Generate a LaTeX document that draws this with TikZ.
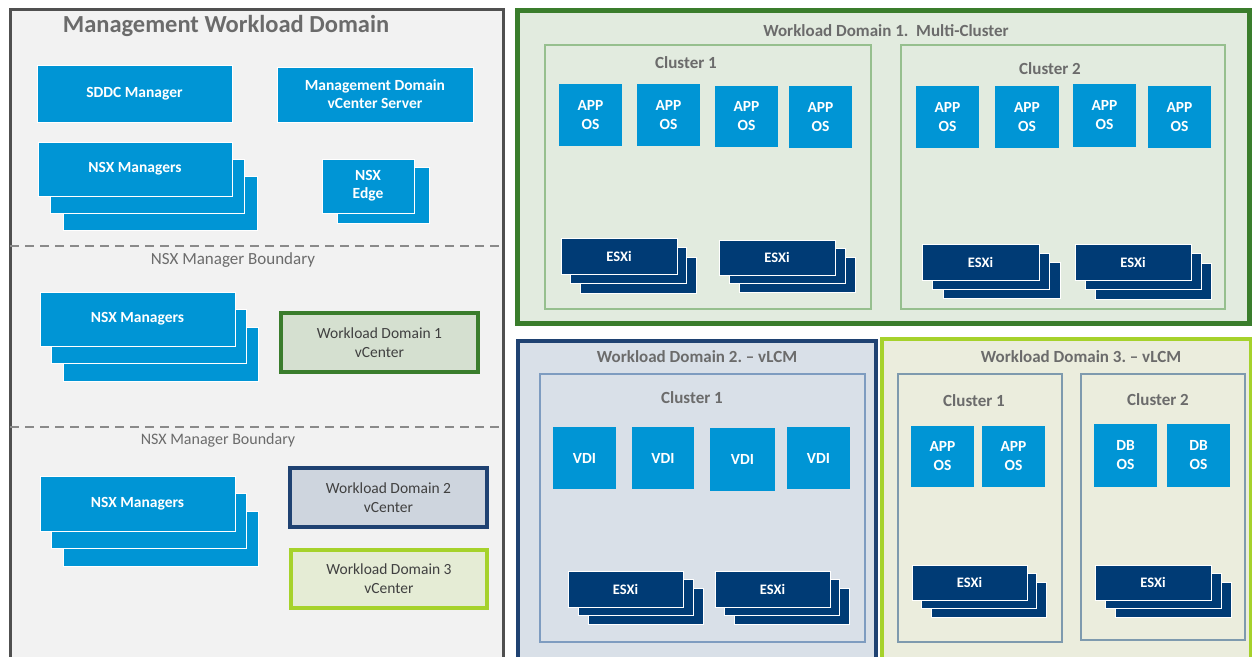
\documentclass[tikz,border=0pt]{standalone}
\usepackage{fontspec}
\setmainfont{Carlito}
\frenchspacing
\definecolor{cblue}{HTML}{0095D5}
\definecolor{navy}{HTML}{003B75}
\definecolor{tgray}{HTML}{6B6B6B}
\definecolor{dgray}{HTML}{404040}
\definecolor{mfill}{HTML}{F2F2F2}
\definecolor{mline}{HTML}{505050}
\definecolor{dashg}{HTML}{8A8A8A}
\definecolor{gline}{HTML}{3A7D2C}
\definecolor{gfill}{HTML}{E2EBDF}
\definecolor{gclus}{HTML}{96BF8E}
\definecolor{gvc}{HTML}{D5E0D0}
\definecolor{nline}{HTML}{1F4272}
\definecolor{bfill}{HTML}{D9E0E8}
\definecolor{bclus}{HTML}{7E9CC0}
\definecolor{bvc}{HTML}{CED5DE}
\definecolor{lline}{HTML}{A6D22B}
\definecolor{lfill}{HTML}{EBEDDD}
\definecolor{lclus}{HTML}{7E9AAE}
\definecolor{lvc}{HTML}{E5ECD5}
\tikzset{
  box/.style={anchor=north west,inner sep=0pt,outer sep=0pt,align=center},
  bluebox/.style={box,fill=cblue,draw=white,line width=0.8pt,text=white,font=\bfseries\fontsize{15.5}{18}\selectfont},
  vmbox/.style={box,fill=cblue,draw=none,text=white,font=\bfseries\fontsize{15.5}{19}\selectfont},
  esxbox/.style={box,fill=navy,draw=white,line width=0.8pt,text=white,font=\bfseries\fontsize{14.5}{16}\selectfont},
  vcbox/.style={box,line width=4pt,text=dgray,font=\fontsize{15.5}{19}\selectfont},
  title/.style={text=tgray,font=\bfseries\fontsize{17}{20}\selectfont,inner sep=0pt},
  bound/.style={text=tgray,font=\fontsize{17}{20}\selectfont,inner sep=0pt},
  dashline/.style={dashg,line width=2.2pt,dash pattern=on 9pt off 6pt},
}
% stack: name, x, y, w, h, dx, dy, style, text
\newcommand\stk[9]{%
  \node[#8,minimum width=#4pt,minimum height=#5pt] (#1c) at (#2+2*#6,#3+2*#7) {};
  \node[#8,minimum width=#4pt,minimum height=#5pt] (#1b) at (#2+#6,#3+#7) {};
  \node[#8,minimum width=#4pt,minimum height=#5pt] (#1) at (#2,#3) {#9};}
\newcommand\vm[6]{\node[vmbox,minimum width=#4pt,minimum height=#5pt] (#1) at (#2,#3) {#6};}
\begin{document}
\begin{tikzpicture}[x=1pt,y=-1pt]
\useasboundingbox (0,0) rectangle (1252,656);
\clip (0,0) rectangle (1252,656);
\fill[white] (0,0) rectangle (1252,656);
% ---------- Management domain ----------
\draw[mline,fill=mfill,line width=3pt] (10,9) rectangle (503,664);
\node[text=tgray,font=\bfseries\fontsize{24.5}{27}\selectfont,inner sep=0pt] (mtitle) at (226,26) {Management Workload Domain};
\node[bluebox,minimum width=195pt,minimum height=57pt] (sddc) at (37,65) {SDDC Manager};
\node[bluebox,minimum width=196pt,minimum height=55pt] (mvc) at (277,67) {Management Domain\\vCenter Server};
\stk{nsxa}{38}{142}{194}{54}{12.5}{17}{bluebox}{NSX Managers}
\node[bluebox,minimum width=92pt,minimum height=56pt] (edgeb) at (337,167) {};
\node[bluebox,minimum width=92pt,minimum height=54pt] (edge) at (322,159) {NSX\\Edge};
\coordinate (d1a) at (10,246); \coordinate (d1b) at (503,246);
\draw[dashline] (d1a) -- (d1b);
\node[bound] (nb1) at (233,260) {NSX Manager Boundary};
\stk{nsxb}{40}{292}{195}{54}{11.5}{17.5}{bluebox}{NSX Managers}
\node[vcbox,draw=gline,fill=gvc,minimum width=197pt,minimum height=59pt] (wd1vc) at (281,313) {Workload Domain 1\\vCenter};
\coordinate (d2a) at (10,427); \coordinate (d2b) at (503,427);
\draw[dashline] (d2a) -- (d2b);
\node[bound,font=\fontsize{16}{19}\selectfont] (nb2) at (218,440) {NSX Manager Boundary};
\stk{nsxc}{40}{476}{195}{55}{11.5}{17.5}{bluebox}{NSX Managers}
\node[vcbox,draw=nline,fill=bvc,minimum width=197pt,minimum height=59pt] (wd2vc) at (290,468) {Workload Domain 2\\vCenter};
\node[vcbox,draw=lline,fill=lvc,minimum width=196pt,minimum height=58pt] (wd3vc) at (291,550) {Workload Domain 3\\vCenter};
% ---------- Workload Domain 1 ----------
\draw[gline,fill=gfill,line width=5pt] (517,10) rectangle (1249,323);
\node[title] (w1t) at (886,31) {Workload Domain 1.\ \ Multi-Cluster};
\draw[gclus,line width=1.2pt] (545,45) rectangle (871,309);
\draw[gclus,line width=1.2pt] (901,45) rectangle (1225,309);
\node[title] (w1c1) at (686,63) {Cluster 1};
\node[title] (w1c2) at (1050,69) {Cluster 2};
\vm{a1}{559}{84}{63}{62}{APP\\OS}
\vm{a2}{637}{84}{63}{62}{APP\\OS}
\vm{a3}{715}{86}{63}{61}{APP\\OS}
\vm{a4}{789}{86}{63}{62}{APP\\OS}
\vm{a5}{916}{86}{63}{62}{APP\\OS}
\vm{a6}{995}{86}{64}{62}{APP\\OS}
\vm{a7}{1073}{84}{63}{63}{APP\\OS}
\vm{a8}{1148}{86}{63}{62}{APP\\OS}
\stk{e1}{561}{238}{116}{36}{9.5}{9.5}{esxbox}{ESXi}
\stk{e2}{719}{240}{116}{35}{10}{8.5}{esxbox}{ESXi}
\stk{e3}{922}{244}{117}{36}{10.5}{9}{esxbox}{ESXi}
\stk{e4}{1075}{244}{116}{36}{10}{9.5}{esxbox}{ESXi}
% ---------- Workload Domain 2 ----------
\draw[nline,fill=bfill,line width=4pt] (518,341) rectangle (876,664);
\node[title] (w2t) at (697,357) {Workload Domain 2. -- vLCM};
\draw[bclus,line width=1.2pt] (540,374) rectangle (865,642);
\node[title] (w2c1) at (692,398) {Cluster 1};
\vm{v1}{553}{427}{63}{62}{VDI}
\vm{v2}{632}{427}{62}{62}{VDI}
\vm{v3}{710}{428}{65}{63}{VDI}
\vm{v4}{787}{427}{63}{62}{VDI}
\stk{e5}{568}{571}{115}{36}{10}{8.5}{esxbox}{ESXi}
\stk{e6}{715}{571}{115}{36}{9.5}{8.5}{esxbox}{ESXi}
% ---------- Workload Domain 3 ----------
\draw[lline,fill=lfill,line width=4pt] (882,339) rectangle (1251,664);
\node[title] (w3t) at (1081,357) {Workload Domain 3. -- vLCM};
\draw[lclus,line width=1.2pt] (898,374) rectangle (1062,642);
\draw[lclus,line width=1.2pt] (1081,374) rectangle (1245,640);
\node[title] (w3c1) at (974,401) {Cluster 1};
\node[title] (w3c2) at (1158,400) {Cluster 2};
\vm{b1}{911}{426}{63}{61}{APP\\OS}
\vm{b2}{982}{426}{63}{61}{APP\\OS}
\vm{c1}{1094}{424}{63}{63}{DB\\OS}
\vm{c2}{1167}{424}{63}{63}{DB\\OS}
\stk{e7}{912}{565}{115}{35}{9.5}{8.5}{esxbox}{ESXi}
\stk{e8}{1095}{565}{116}{35}{10}{8.5}{esxbox}{ESXi}
\end{tikzpicture}
\end{document}
